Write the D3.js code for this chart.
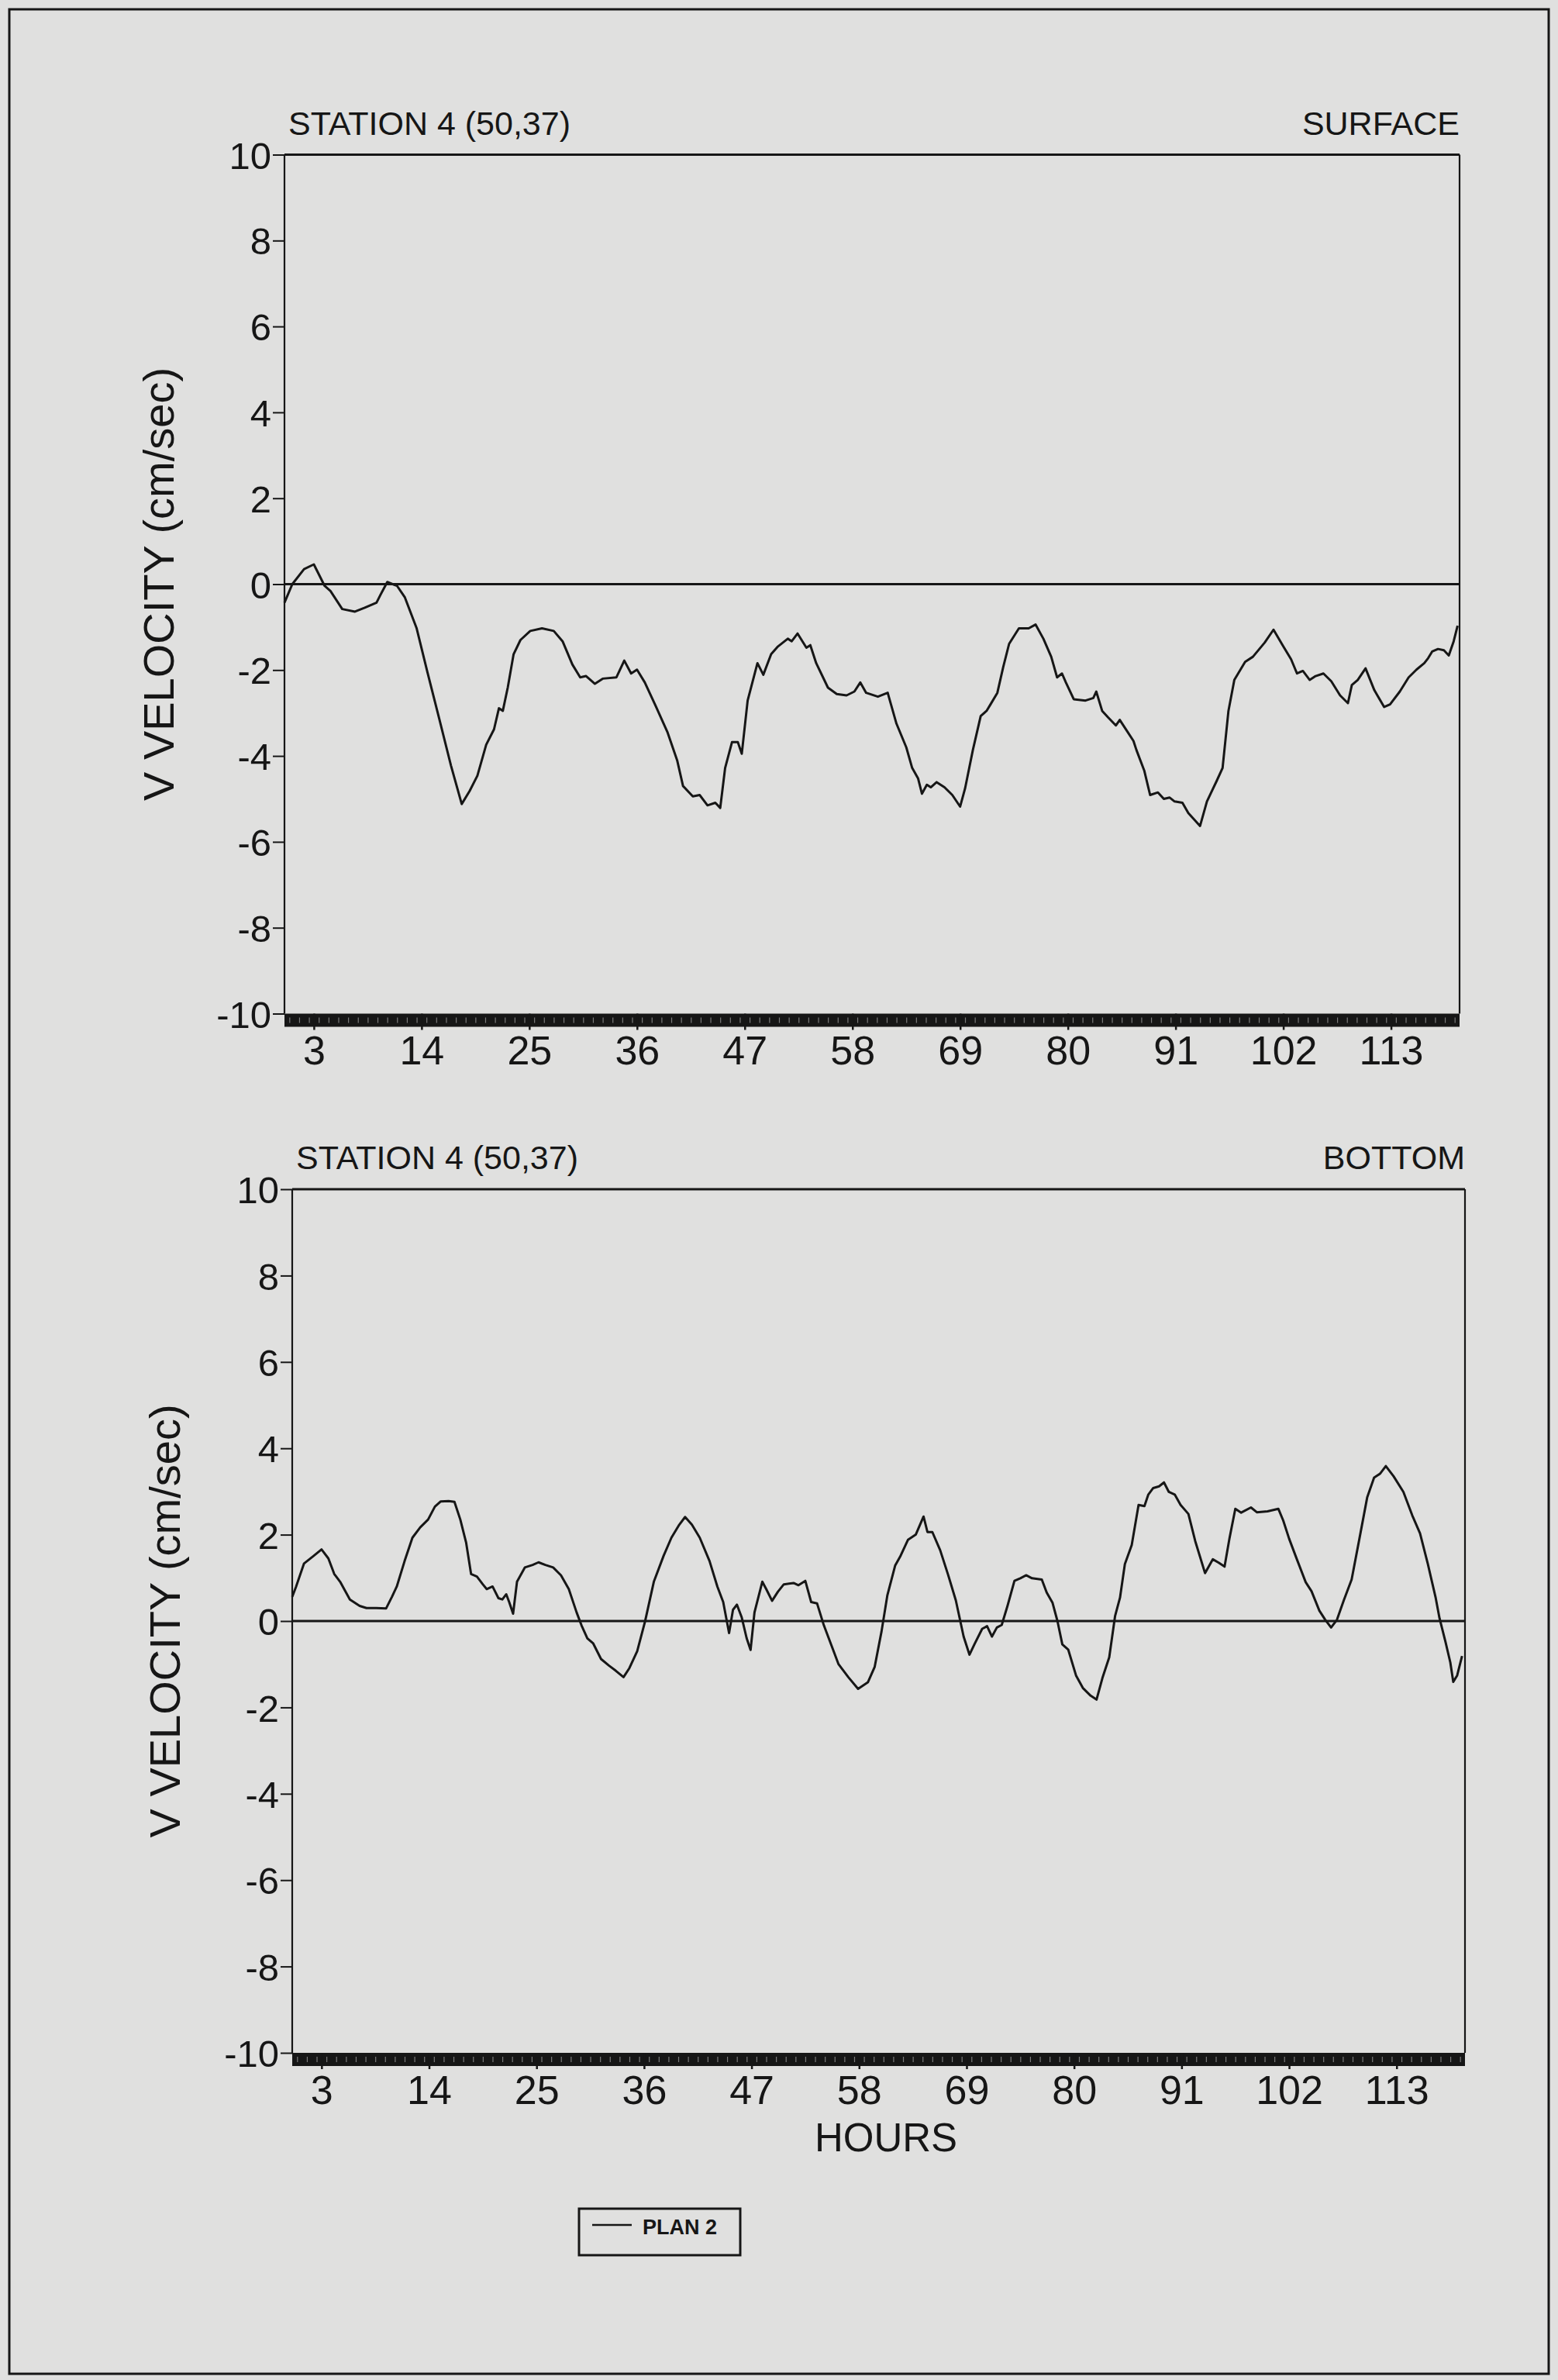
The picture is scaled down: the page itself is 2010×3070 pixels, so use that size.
<!DOCTYPE html>
<html>
<head>
<meta charset="utf-8">
<script src="https://cdn.jsdelivr.net/npm/d3@7"></script>
<style>
  html, body { margin: 0; padding: 0; background: #e0e0df; }
  svg { display: block; }
  text { font-family: "Liberation Sans", Arial, Helvetica, sans-serif; fill: #161616; }
</style>
</head>
<body>
<svg id="chart" width="2010" height="3070"></svg>
<script>
// Tick labels and text
const hourTicks = [3, 14, 25, 36, 47, 58, 69, 80, 91, 102, 113];
const velocityTicks = [-10, -8, -6, -4, -2, 0, 2, 4, 6, 8, 10];
const stationLabel = "STATION 4 (50,37)";
const depthLabels = ["SURFACE", "BOTTOM"];
const yAxisTitle = "V VELOCITY (cm/sec)";
const xAxisTitle = "HOURS";
const seriesName = "PLAN 2";

// V velocity (cm/sec) by hour, PLAN 2, surface layer
const surfacePlan2 = [
  [0,-0.43],[0.8,0],[2,0.35],[3,0.46],[4.1,-0.04],[4.7,-0.16],[5.9,-0.58],[7.2,-0.64],[8.2,-0.55],
  [9.4,-0.43],[9.8,-0.25],[10.5,0.05],[11.5,-0.04],[12.3,-0.31],[13.5,-1.03],[14.6,-2.05],[15.8,-3.13],
  [17.0,-4.22],[18.1,-5.12],[18.9,-4.82],[19.7,-4.46],[20.6,-3.74],[21.4,-3.38],[21.9,-2.89],[22.3,-2.95],
  [22.8,-2.41],[23.4,-1.63],[24.1,-1.30],[25.1,-1.09],[26.3,-1.03],[27.5,-1.09],[28.4,-1.33],[29.4,-1.87],
  [30.2,-2.17],[30.8,-2.14],[31.7,-2.32],[32.5,-2.20],[33.9,-2.17],[34.7,-1.78],[35.4,-2.08],[36.0,-1.99],
  [36.8,-2.29],[37.9,-2.83],[39.1,-3.44],[40.1,-4.10],[40.7,-4.70],[41.7,-4.94],[42.4,-4.91],[43.2,-5.15],
  [44.0,-5.09],[44.5,-5.21],[45.0,-4.28],[45.7,-3.68],[46.3,-3.68],[46.7,-3.95],[47.3,-2.71],[48.3,-1.84],
  [48.9,-2.11],[49.7,-1.63],[50.4,-1.45],[51.4,-1.27],[51.8,-1.33],[52.4,-1.15],[53.3,-1.48],[53.7,-1.42],
  [54.3,-1.84],[55.5,-2.41],[56.4,-2.56],[57.4,-2.59],[58.2,-2.50],[58.8,-2.29],[59.4,-2.53],[60.6,-2.62],
  [61.6,-2.53],[62.5,-3.25],[63.5,-3.80],[64.1,-4.28],[64.7,-4.52],[65.1,-4.88],[65.6,-4.67],[66.0,-4.73],
  [66.6,-4.61],[67.4,-4.73],[68.2,-4.91],[69.0,-5.18],[69.5,-4.76],[70.3,-3.86],[71.1,-3.07],[71.7,-2.95],
  [72.1,-2.80],[72.8,-2.53],[73.4,-1.93],[74.0,-1.39],[75.0,-1.03],[76.0,-1.03],[76.7,-0.94],[77.5,-1.27],
  [78.3,-1.69],[78.9,-2.17],[79.4,-2.08],[79.8,-2.29],[80.6,-2.68],[81.8,-2.71],[82.6,-2.65],[82.9,-2.50],
  [83.5,-2.95],[84.1,-3.10],[84.9,-3.29],[85.3,-3.16],[86.1,-3.44],[86.7,-3.65],[87.0,-3.86],[87.8,-4.34],
  [88.4,-4.91],[89.2,-4.85],[89.8,-5.00],[90.4,-4.97],[90.9,-5.06],[91.7,-5.09],[92.3,-5.33],[93.5,-5.63],
  [94.2,-5.06],[95.2,-4.58],[95.8,-4.28],[96.4,-2.95],[97.0,-2.23],[98.1,-1.81],[98.9,-1.69],[100.1,-1.36],
  [101.0,-1.06],[102.0,-1.45],[102.8,-1.75],[103.4,-2.08],[104.0,-2.02],[104.7,-2.23],[105.3,-2.14],
  [106.1,-2.08],[106.9,-2.26],[107.8,-2.59],[108.6,-2.77],[109.0,-2.35],[109.6,-2.23],[110.4,-1.96],
  [111.3,-2.47],[112.3,-2.86],[112.9,-2.80],[113.9,-2.50],[114.8,-2.17],[115.6,-1.99],[116.4,-1.84],
  [116.8,-1.72],[117.2,-1.57],[117.8,-1.51],[118.4,-1.54],[118.9,-1.66],[119.4,-1.33],[119.8,-0.97]
];

// V velocity (cm/sec) by hour, PLAN 2, bottom layer
const bottomPlan2 = [
  [0,0.56],[0.4,0.80],[1.2,1.33],[2.2,1.51],[3.0,1.66],[3.7,1.45],[4.3,1.09],[4.9,0.91],[5.9,0.50],
  [6.9,0.35],[7.6,0.30],[8.6,0.30],[9.6,0.29],[10.2,0.56],[10.7,0.80],[11.5,1.39],[12.3,1.93],[13.1,2.17],
  [13.9,2.35],[14.6,2.65],[15.2,2.77],[16.0,2.78],[16.6,2.76],[17.2,2.35],[17.8,1.81],[18.3,1.09],
  [18.9,1.03],[19.5,0.85],[19.9,0.74],[20.5,0.80],[21.1,0.53],[21.5,0.50],[21.9,0.62],[22.2,0.44],
  [22.6,0.17],[23.0,0.91],[23.8,1.24],[24.6,1.30],[25.2,1.36],[25.9,1.30],[26.7,1.24],[27.5,1.06],
  [28.3,0.74],[29.1,0.20],[29.6,-0.10],[30.2,-0.40],[30.8,-0.52],[31.6,-0.88],[32.4,-1.03],[33.1,-1.15],
  [33.9,-1.30],[34.5,-1.09],[35.3,-0.70],[36.1,-0.01],[37.0,0.91],[38.0,1.51],[38.8,1.93],[39.6,2.23],
  [40.2,2.41],[40.9,2.23],[41.7,1.93],[42.7,1.39],[43.5,0.80],[44.1,0.44],[44.4,0.08],[44.7,-0.28],
  [45.1,0.26],[45.5,0.38],[46.0,0.08],[46.5,-0.40],[46.9,-0.67],[47.3,0.20],[48.1,0.91],[48.5,0.74],
  [49.1,0.47],[49.7,0.68],[50.3,0.85],[51.3,0.88],[51.8,0.83],[52.5,0.93],[53.1,0.44],[53.7,0.41],
  [54.4,-0.10],[55.2,-0.58],[55.9,-1.00],[56.9,-1.30],[57.9,-1.57],[58.9,-1.42],[59.6,-1.06],[60.3,-0.24],
  [60.9,0.60],[61.7,1.29],[62.2,1.49],[63.0,1.88],[63.8,2.00],[64.2,2.21],[64.6,2.42],[65.0,2.06],
  [65.5,2.06],[66.3,1.64],[67.1,1.08],[67.9,0.48],[68.7,-0.36],[69.3,-0.78],[69.8,-0.54],[70.6,-0.18],
  [71.1,-0.12],[71.6,-0.36],[72.1,-0.15],[72.6,-0.09],[73.2,0.36],[73.9,0.93],[74.5,0.99],[75.1,1.06],
  [75.7,0.99],[76.7,0.96],[77.2,0.66],[77.8,0.42],[78.3,0.0],[78.8,-0.54],[79.4,-0.66],[80.2,-1.26],
  [80.9,-1.55],[81.7,-1.73],[82.3,-1.82],[82.9,-1.32],[83.6,-0.84],[84.2,0.12],[84.7,0.54],[85.2,1.32],
  [85.9,1.76],[86.6,2.69],[87.2,2.66],[87.6,2.93],[88.1,3.08],[88.7,3.12],[89.2,3.21],[89.7,2.99],
  [90.3,2.93],[90.9,2.69],[91.7,2.48],[92.4,1.85],[93.4,1.11],[94.2,1.43],[94.8,1.35],[95.4,1.26],
  [95.9,1.91],[96.5,2.60],[97.1,2.51],[98.1,2.63],[98.7,2.52],[99.8,2.54],[100.9,2.60],[101.4,2.33],
  [102.0,1.91],[102.8,1.43],[103.7,0.90],[104.3,0.69],[105.1,0.24],[105.7,0.03],[106.3,-0.15],[106.9,0.03],
  [107.6,0.48],[108.4,0.96],[109.2,1.91],[110.0,2.87],[110.7,3.32],[111.3,3.41],[111.9,3.59],[112.7,3.35],
  [113.7,2.99],[114.6,2.45],[115.4,2.03],[116.2,1.32],[117.0,0.54],[117.4,0.06],[118.0,-0.48],[118.5,-0.96],
  [118.8,-1.41],[119.2,-1.26],[119.7,-0.81]
];

const hourDomain = [0, 120];
const velocityDomain = [-10, 10];

const svg = d3.select("#chart");
const ink = "#161616";
const plainNumber = d => String(d);

// page border
svg.append("rect")
  .attr("x", 12).attr("y", 12).attr("width", 1986).attr("height", 3050)
  .attr("fill", "none").attr("stroke", ink).attr("stroke-width", 3);

const panels = [
  { depth: depthLabels[0], data: surfacePlan2, left: 367, right: 1883, top: 199.5, bottom: 1307.5, titleX: 224 },
  { depth: depthLabels[1], data: bottomPlan2,  left: 377, right: 1890, top: 1534,  bottom: 2648,   titleX: 232 }
];

panels.forEach(p => {
  const x = d3.scaleLinear().domain(hourDomain).range([p.left, p.right]);
  const y = d3.scaleLinear().domain(velocityDomain).range([p.bottom, p.top]);
  const g = svg.append("g");

  // dense hour ruler along the bottom edge: solid band with fine ticks
  g.append("rect")
    .attr("x", p.left).attr("y", p.bottom)
    .attr("width", p.right - p.left).attr("height", 17)
    .attr("fill", ink);
  const fine = g.append("g")
    .attr("transform", `translate(0,${p.bottom + 5})`)
    .call(d3.axisBottom(x).tickValues(d3.range(0.5, 120, 1)).tickSize(7).tickFormat(""));
  fine.select(".domain").remove();
  fine.selectAll(".tick line").attr("stroke", "#7a7a7a").attr("stroke-width", 1.2);

  const major = g.append("g")
    .attr("transform", `translate(0,${p.bottom})`)
    .call(d3.axisBottom(x).tickValues(hourTicks).tickSize(21).tickPadding(8).tickFormat(plainNumber));
  major.select(".domain").remove();
  major.selectAll(".tick line").attr("stroke", ink).attr("stroke-width", 2.5);
  major.selectAll(".tick text").attr("font-size", 52).attr("fill", ink);

  // y axis
  const ya = g.append("g")
    .attr("transform", `translate(${p.left},0)`)
    .call(d3.axisLeft(y).tickValues(velocityTicks).tickSize(15).tickPadding(2).tickFormat(plainNumber));
  ya.select(".domain").remove();
  ya.selectAll(".tick line").attr("stroke", ink).attr("stroke-width", 2);
  ya.selectAll(".tick text").attr("font-size", 49).attr("fill", ink).attr("dy", "0.36em");

  // plot frame
  g.append("line").attr("x1", p.left).attr("x2", p.left).attr("y1", p.top).attr("y2", p.bottom)
    .attr("stroke", ink).attr("stroke-width", 2.2);
  g.append("line").attr("x1", p.right).attr("x2", p.right).attr("y1", p.top).attr("y2", p.bottom)
    .attr("stroke", ink).attr("stroke-width", 2.2);
  g.append("line").attr("x1", p.left).attr("x2", p.right).attr("y1", p.top).attr("y2", p.top)
    .attr("stroke", ink).attr("stroke-width", 3.2);

  // zero reference line
  g.append("line").attr("x1", p.left).attr("x2", p.right).attr("y1", y(0)).attr("y2", y(0))
    .attr("stroke", ink).attr("stroke-width", 3);

  // series
  g.append("path")
    .datum(p.data)
    .attr("fill", "none")
    .attr("stroke", ink)
    .attr("stroke-width", 3)
    .attr("stroke-linejoin", "round")
    .attr("d", d3.line().x(d => x(d[0])).y(d => y(d[1])));

  // panel headings
  g.append("text").attr("x", p.left + 5).attr("y", p.top - 26)
    .attr("font-size", 43).text(stationLabel);
  g.append("text").attr("x", p.right).attr("y", p.top - 26)
    .attr("font-size", 43).attr("text-anchor", "end").text(p.depth);

  // y axis title
  g.append("text")
    .attr("transform", `translate(${p.titleX},${(p.top + p.bottom) / 2}) rotate(-90)`)
    .attr("text-anchor", "middle").attr("font-size", 56).text(yAxisTitle);
});

// x axis title
svg.append("text").attr("x", 1143).attr("y", 2775)
  .attr("text-anchor", "middle").attr("font-size", 51).text(xAxisTitle);

// legend
const legend = svg.append("g");
legend.append("rect").attr("x", 747).attr("y", 2849).attr("width", 208).attr("height", 60)
  .attr("fill", "none").attr("stroke", ink).attr("stroke-width", 3);
legend.append("line").attr("x1", 764).attr("x2", 815).attr("y1", 2870).attr("y2", 2870)
  .attr("stroke", ink).attr("stroke-width", 2.6);
legend.append("text").attr("x", 829).attr("y", 2882)
  .attr("font-size", 27).attr("font-weight", "bold").text(seriesName);
</script>
</body>
</html>
